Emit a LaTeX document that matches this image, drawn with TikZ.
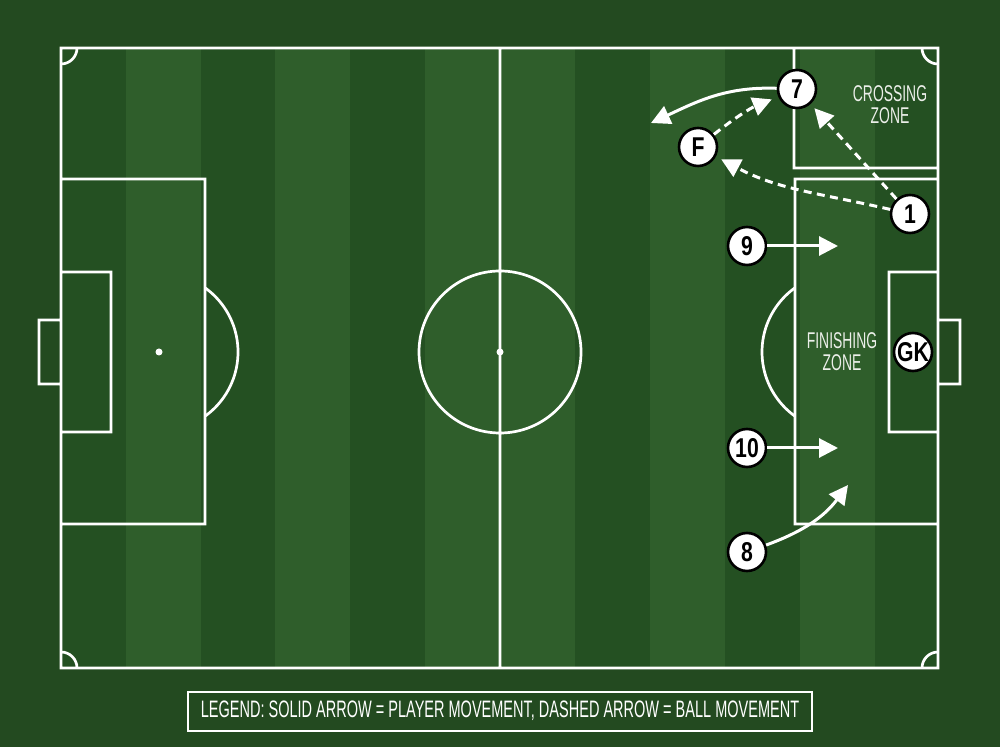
\documentclass[tikz,border=0pt]{standalone}
\usepackage{fontspec}
\setmainfont{Liberation Sans}[FakeStretch=0.61]
\newfontfamily\playerfont{Liberation Sans}[FakeStretch=0.78]
\usetikzlibrary{arrows.meta}
\definecolor{pitchbg}{HTML}{234A20}
\definecolor{stripedark}{HTML}{245022}
\definecolor{stripelight}{HTML}{2F5E2B}
\definecolor{zonegray}{HTML}{ECEFEA}

\begin{document}
\begin{tikzpicture}[x=0.5pt,y=-0.5pt,>={Triangle[length=9.5pt,width=9.5pt]},
    pitch line/.style={white,line width=1.35pt},
    player node/.style={circle,draw=black,fill=white,text=black,line width=1.3pt,minimum size=19pt,inner sep=0pt,font=\playerfont\bfseries\fontsize{13.6}{13.6}\selectfont},
    run/.style={->,white,line width=1.5pt},
    pass/.style={run,dash pattern=on 4pt off 2.7pt},
    zone label/.style={text=zonegray,align=center,font=\fontsize{11.4}{11}\selectfont}]
    \useasboundingbox (0,0) rectangle (1000,747);
    % grass
    \fill[pitchbg] (0,0) rectangle (1000,747);
    \fill[stripedark] (61,48) rectangle (938,668);
    \foreach \x in {126,275,425,500,650,800}
        \fill[stripelight] (\x,48) rectangle ++(75,620);

    % markings
    \draw[pitch line] (61,48) rectangle (938,668)
        (500,48) -- (500,668)
        (500,352) circle[radius=81]
        (61,179) rectangle (205,524) (61,272) rectangle (111,432) (61,320) rectangle (39,384)
        (938,179) rectangle (795,524) (938,272) rectangle (889,432) (938,320) rectangle (960,384)
        (794,48) rectangle (938,168);
    \fill[white] (500,352) circle[radius=3.5] (159,352) circle[radius=3.5];
    \begin{scope}
        \clip (61,48) rectangle (938,668);
        \foreach \c in {(61,48),(938,48),(61,668),(938,668)}
            \draw[pitch line] \c circle[radius=16];
    \end{scope}
    \begin{scope}
        \clip (205,0) rectangle (500,747);
        \draw[pitch line] (159,352) circle[radius=79];
    \end{scope}
    \begin{scope}
        \clip (500,0) rectangle (795,747);
        \draw[pitch line] (841,352) circle[radius=79];
    \end{scope}

    % zones
    \node[zone label] (crossing) at (890,105) {CROSSING\\ZONE};
    \node[zone label] (finishing) at (842,352) {FINISHING\\ZONE};

    % players
    \node[player node] (7) at (797,89) {7};
    \node[player node] (F) at (698,147) {F};
    \node[player node] (1) at (910,214) {1};
    \node[player node] (9) at (747,246) {9};
    \node[player node] (GK) at (913,352) {GK};
    \node[player node] (10) at (747,448) {10};
    \node[player node] (8) at (747,552) {8};

    \coordinate (r7) at (651,123);
    \coordinate (r9) at (838,246);
    \coordinate (r10) at (838,448);
    \coordinate (r8) at (848,485);

    \path (9) edge[run] (r9)
          (10) edge[run] (r10)
          (8) edge[run,out=20,in=-127] (r8)
          (7) edge[run,out=178,in=25] (r7)
          (F) edge[pass,bend left=8,shorten >=3.5pt] (7)
          (1) edge[pass,shorten >=2.8pt] (7)
          (1) edge[pass,out=167,in=-28,shorten >=3pt] (F)
          ;

    \node[draw=white,line width=1pt,text=white,minimum width=312pt,minimum height=19.5pt,font=\fontsize{11.9}{12}\selectfont] (legend) at (500,711)
        {LEGEND: SOLID ARROW = PLAYER MOVEMENT, DASHED ARROW = BALL MOVEMENT};
\end{tikzpicture}
\end{document}
